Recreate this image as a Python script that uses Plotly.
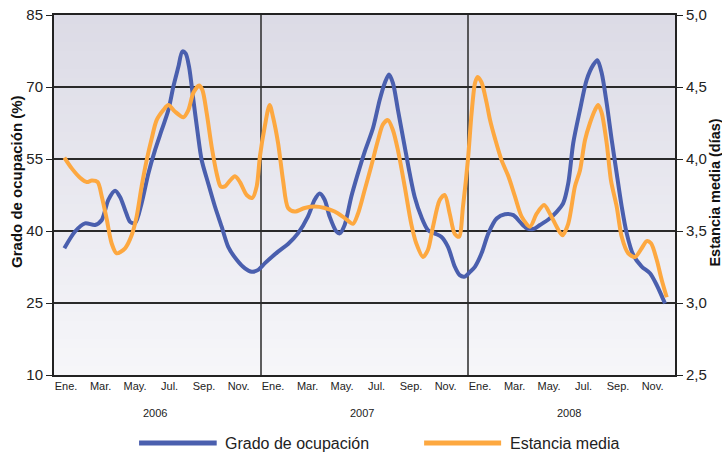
import plotly.graph_objects as go

# --- data (x in months from Jan 2006) ---
mes_grado = [0.60, 1.22, 1.80, 2.38, 2.77, 3.15, 3.54, 3.83, 4.12, 4.41, 4.70, 5.08, 5.47, 5.86, 6.24,
             6.63, 6.92, 7.21, 7.44, 7.63, 7.83, 8.08, 8.33, 8.56, 8.94, 9.33, 9.72, 10.10, 10.59, 11.07,
             11.46, 11.84, 12.23, 12.99, 13.57, 14.14, 14.72, 15.11, 15.40, 15.69, 15.98, 16.37, 16.56,
             16.85, 17.23, 17.62, 18.01, 18.49, 18.88, 19.17, 19.42, 19.65, 19.94, 20.33, 20.62, 20.91,
             21.29, 21.68, 22.07, 22.45, 22.84, 23.23, 23.52, 23.81, 24.12, 24.41, 24.79, 25.18, 25.66,
             26.14, 26.63, 27.01, 27.40, 27.79, 28.17, 28.66, 29.14, 29.52, 29.81, 30.10, 30.49, 30.88,
             31.26, 31.50, 31.75, 32.04, 32.33, 32.62, 32.91, 33.20, 33.58, 34.07, 34.55, 34.94, 35.42]
grado = [36.4, 39.9, 41.6, 41.25, 42.3, 46.5, 48.4, 47.1, 44.4, 41.9, 41.6, 45.8, 52.0, 56.9, 61.0,
         65.2, 70.1, 74.2, 77.4, 77.0, 74.2, 67.3, 60.4, 54.8, 49.9, 45.1, 40.9, 36.7, 34.0, 32.2,
         31.5, 31.9, 33.3, 35.7, 37.3, 39.5, 43.0, 46.5, 47.8, 46.5, 43.0, 39.9, 39.5,
         41.25, 47.1, 52.0, 56.5, 61.4, 67.3, 70.8, 72.6, 70.8, 65.2, 57.6, 52.0, 47.1,
         43.0, 40.2, 39.5, 38.8, 36.7, 32.6, 30.8, 30.5, 31.5, 32.6, 35.4, 39.5, 42.6,
         43.5, 43.3, 41.9, 40.6, 40.4, 41.25, 42.4, 44.0, 45.8, 49.9, 58.3, 65.2, 71.5,
         74.6, 75.6, 72.9, 66.6, 59.0, 52.0, 45.1, 39.5, 35.0, 32.6, 31.2, 28.75, 24.9]

mes_estancia = [0.60, 1.03, 1.51, 1.90, 2.19, 2.53, 2.77, 3.06, 3.34, 3.63, 4.12, 4.50, 4.79, 5.08, 5.37,
                5.66, 5.95, 6.34, 6.63, 7.01, 7.50, 7.79, 8.08, 8.41, 8.60, 8.85, 9.14, 9.43, 9.66, 9.91,
                10.20, 10.49, 10.78, 11.17, 11.50, 11.75, 11.94, 12.21, 12.50, 12.70, 12.99, 13.28, 13.57,
                13.95, 14.53, 15.11, 15.69, 16.27, 16.85, 17.33, 17.62, 18.01, 18.39, 18.78, 19.07, 19.36,
                19.65, 19.94, 20.33, 20.71, 21.00, 21.39, 21.68, 21.97, 22.36, 22.65, 22.94, 23.23, 23.48,
                23.71, 24.00, 24.21, 24.41, 24.56, 24.79, 25.08, 25.28, 25.57, 25.95, 26.34, 26.72, 27.11,
                27.59, 27.98, 28.41, 28.75, 29.14, 29.47, 29.81, 30.20, 30.49, 30.78, 31.07, 31.36, 31.55,
                31.75, 32.04, 32.29, 32.62, 32.91, 33.29, 33.68, 34.07, 34.36, 34.61, 34.94, 35.23, 35.52]
estancia = [4.01, 3.935, 3.87, 3.84, 3.85, 3.84, 3.74, 3.58, 3.415, 3.345, 3.38, 3.47, 3.60, 3.81, 3.99,
            4.14, 4.27, 4.34, 4.375, 4.33, 4.29, 4.34, 4.46, 4.51, 4.48, 4.32, 4.085, 3.90, 3.81, 3.81,
            3.85, 3.88, 3.84, 3.75, 3.73, 3.81, 4.02, 4.22, 4.375, 4.29, 4.11, 3.85, 3.66,
            3.635, 3.66, 3.67, 3.66, 3.635, 3.59, 3.55, 3.62, 3.785, 3.95, 4.13, 4.24, 4.27,
            4.20, 4.06, 3.81, 3.55, 3.415, 3.32, 3.37, 3.53, 3.715, 3.75, 3.62, 3.48, 3.46,
            3.67, 4.00, 4.32, 4.53, 4.57, 4.53, 4.39, 4.27, 4.14, 3.99, 3.88, 3.74, 3.60,
            3.53, 3.62, 3.68, 3.62, 3.53, 3.47, 3.55, 3.81, 3.92, 4.13, 4.25, 4.34, 4.375,
            4.32, 4.11, 3.85, 3.67, 3.46, 3.345, 3.32, 3.38, 3.43, 3.415, 3.30, 3.16, 3.04]

meses = ["Ene.", "Mar.", "May.", "Jul.", "Sep.", "Nov."]
anios = ["2006", "2007", "2008"]
ticks_izq = [10, 25, 40, 55, 70, 85]
ticks_der = [2.5, 3.0, 3.5, 4.0, 4.5, 5.0]
ticks_der_txt = ["2,5", "3,0", "3,5", "4,0", "4,5", "5,0"]

nombre_grado = "Grado de ocupación"
nombre_estancia = "Estancia media"
titulo_izq = "Grado de ocupación (%)"
titulo_der = "Estancia media (días)"

AZUL = "#4a5fae"
NARANJA = "#fda840"
FONT = "Liberation Sans, Arial, sans-serif"

fig = go.Figure()
fig.add_trace(go.Scatter(x=mes_grado, y=grado, mode="lines", name=nombre_grado,
                         line=dict(color=AZUL, width=4, shape="spline", smoothing=0.8),
                         showlegend=False, yaxis="y"))
fig.add_trace(go.Scatter(x=mes_estancia, y=estancia, mode="lines", name=nombre_estancia,
                         line=dict(color=NARANJA, width=4, shape="spline", smoothing=0.8),
                         showlegend=False, yaxis="y2"))

# x ticks: month labels per year
tickvals, ticktext = [], []
for k in range(len(anios)):
    for j, m in enumerate(meses):
        tickvals.append(12 * k + 2 * j + 0.7)
        ticktext.append(m)

shapes = []
# background gradient
n = 40
top = (220, 219, 230)
bot = (246, 246, 249)
for i in range(n):
    t = i / (n - 1)
    c = tuple(round(top[q] + (bot[q] - top[q]) * t) for q in range(3))
    shapes.append(dict(type="rect", xref="paper", yref="paper", x0=0, x1=1,
                       y0=1 - (i + 1) / n, y1=1 - i / n, fillcolor="rgb(%d,%d,%d)" % c,
                       line=dict(width=0), layer="below"))
# year separators
for k in range(1, len(anios)):
    shapes.append(dict(type="line", xref="x", yref="paper", x0=12 * k, x1=12 * k, y0=0, y1=1,
                       line=dict(color="#2a2a2a", width=1.5), layer="between"))
# manual legend
shapes.append(dict(type="line", xref="paper", yref="paper", x0=0.137, x1=0.262, y0=-0.189, y1=-0.189,
                   line=dict(color=AZUL, width=5)))
shapes.append(dict(type="line", xref="paper", yref="paper", x0=0.596, x1=0.720, y0=-0.189, y1=-0.189,
                   line=dict(color=NARANJA, width=5)))

annotations = []
for k, a in enumerate(anios):
    annotations.append(dict(x=12 * k + 5.85, y=-0.106, xref="x", yref="paper", text=a, showarrow=False,
                            font=dict(size=11, color="#222", family=FONT), yanchor="middle"))
annotations.append(dict(x=0.272, y=-0.189, xref="paper", yref="paper", text=nombre_grado, showarrow=False,
                        xanchor="left", yanchor="middle", font=dict(size=16, color="#222", family=FONT)))
annotations.append(dict(x=0.731, y=-0.189, xref="paper", yref="paper", text=nombre_estancia, showarrow=False,
                        xanchor="left", yanchor="middle", font=dict(size=16, color="#222", family=FONT)))
# axis titles
annotations.append(dict(x=-0.0596, y=0.539, xref="paper", yref="paper", text="<b>%s</b>" % titulo_izq,
                        showarrow=False, textangle=-90, xanchor="center", yanchor="middle",
                        font=dict(size=15, color="#111", family=FONT)))
annotations.append(dict(x=1.064, y=0.506, xref="paper", yref="paper", text="<b>%s</b>" % titulo_der,
                        showarrow=False, textangle=-90, xanchor="center", yanchor="middle",
                        font=dict(size=14.5, color="#111", family=FONT)))

fig.update_layout(
    width=722, height=455,
    margin=dict(l=54, r=47, t=15, b=80, autoexpand=False),
    paper_bgcolor="white", plot_bgcolor="#ebebf0",
    font=dict(family=FONT, color="#222"),
    shapes=shapes, annotations=annotations,
    xaxis=dict(range=[0, 36], tickmode="array", tickvals=tickvals, ticktext=ticktext, automargin=False,
               tickfont=dict(size=11, color="#222"), showgrid=False, zeroline=False,
               showline=True, linecolor="#222", linewidth=2, mirror=True, ticks=""),
    yaxis=dict(range=[10, 85], tickmode="array", tickvals=ticks_izq, automargin=False,
               tickfont=dict(size=15, color="#222"), showgrid=True, gridcolor="#2a2a2a", gridwidth=1.5,
               zeroline=False, showline=True, linecolor="#222", linewidth=2, ticks="outside",
               ticklen=6, tickcolor="#222"),
    yaxis2=dict(range=[2.5, 5.0], overlaying="y", side="right", tickmode="array", tickvals=ticks_der,
                ticktext=ticks_der_txt, tickfont=dict(size=15, color="#222"), showgrid=False, zeroline=False,
                automargin=False,
                showline=True, linecolor="#222", linewidth=2, ticks="outside", ticklen=6, tickcolor="#222"),
)

# remove the default 8px page margin so the figure sits at the window's top-left corner
fig.write_html("out.html", config={"displayModeBar": False},
               post_script="document.body.style.margin='0';")
